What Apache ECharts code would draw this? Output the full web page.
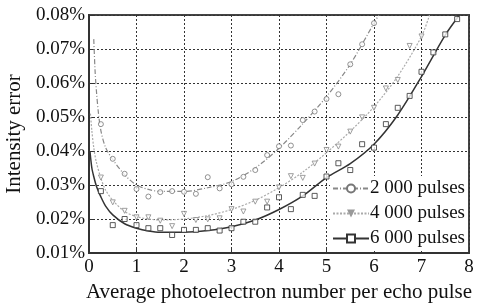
<!DOCTYPE html>
<html>
<head>
<meta charset="utf-8">
<script src="https://cdn.jsdelivr.net/npm/echarts@6/dist/echarts.min.js"></script>
<style>
  html, body { margin: 0; padding: 0; background: #fff; }
  #chart { width: 480px; height: 303px; }
</style>
</head>
<body>
<div id="chart"></div>
<script>
// measured points (x = photoelectrons per pulse, y = intensity error in %)
const xPts = [0.25, 0.5, 0.75, 1, 1.25, 1.5, 1.75, 2, 2.25, 2.5, 2.75, 3, 3.25, 3.5, 3.75, 4,
  4.25, 4.5, 4.75, 5, 5.25, 5.5, 5.75, 6, 6.25, 6.5, 6.75, 7, 7.25, 7.5, 7.75];
const pts2000 = [0.0479, 0.0377, 0.0333, 0.0288, 0.0266, 0.0279, 0.0282, 0.0280, 0.0274, 0.0323,
  0.0290, 0.0302, 0.0324, 0.0344, 0.0388, 0.0414, 0.0416, 0.0491, 0.0516, 0.0553, 0.0567,
  0.0655, 0.0714, 0.0776];
const pts4000 = [0.0322, 0.0249, 0.0224, 0.0205, 0.0205, 0.0195, 0.0179, 0.0215, 0.0197, 0.0199,
  0.0202, 0.0229, 0.0222, 0.0251, 0.0251, 0.0293, 0.0326, 0.0321, 0.0363, 0.0403, 0.0413,
  0.0457, 0.0499, 0.0527, 0.0584, 0.0609, 0.0709, 0.0737];
const pts6000 = [0.0282, 0.0182, 0.0200, 0.0182, 0.0173, 0.0173, 0.0153, 0.0168, 0.0168, 0.0173,
  0.0166, 0.0173, 0.0192, 0.0192, 0.0234, 0.0264, 0.0229, 0.0271, 0.0268, 0.0325, 0.0364,
  0.0344, 0.0420, 0.0410, 0.0479, 0.0527, 0.0562, 0.0633, 0.0690, 0.0743, 0.0788];

// fitted curves
const fit2000X = [0.1, 0.13, 0.16, 0.2, 0.25, 0.35, 0.5, 0.75, 1, 1.25, 1.5, 2, 2.5, 3, 3.5,
  4, 4.5, 5, 5.5, 6, 6.1];
const fit2000Y = [0.0729, 0.0630, 0.0570, 0.0510, 0.0460, 0.0410, 0.0375, 0.0330, 0.0300, 0.0287,
  0.0281, 0.0281, 0.0292, 0.0310, 0.0350, 0.0408, 0.0480, 0.0560, 0.0655, 0.0776, 0.0800];
const fit4000X = [0.03, 0.06, 0.1, 0.15, 0.25, 0.35, 0.5, 0.75, 1, 1.25, 1.5, 2, 2.5, 3, 3.5,
  4, 4.5, 5, 5.5, 6, 6.5, 7, 7.17];
const fit4000Y = [0.0510, 0.0460, 0.0410, 0.0370, 0.0320, 0.0285, 0.0255, 0.0222, 0.0207, 0.0200,
  0.0197, 0.0200, 0.0210, 0.0228, 0.0255, 0.0292, 0.0338, 0.0395, 0.0458, 0.0530, 0.0620, 0.0737, 0.0800];
const fit6000X = [0.02, 0.06, 0.1, 0.16, 0.25, 0.35, 0.5, 0.75, 1, 1.25, 1.5, 2, 2.5, 3, 3.5,
  4, 4.5, 5, 5.5, 6, 6.5, 7, 7.5, 7.8];
const fit6000Y = [0.0400, 0.0350, 0.0325, 0.0295, 0.0265, 0.0238, 0.0212, 0.0186, 0.0173, 0.0165,
  0.0161, 0.0161, 0.0166, 0.0177, 0.0197, 0.0228, 0.0268, 0.0322, 0.0363, 0.0420, 0.0506, 0.0619,
  0.0741, 0.0800];

const names = ['2 000 pulses', '4 000 pulses', '6 000 pulses'];
const fontFam = '"Liberation Serif", "DejaVu Serif", serif';

const zip = (xs, ys) => ys.map((y, i) => [xs[i], y]);

const chart = echarts.init(document.getElementById('chart'), null, { renderer: 'canvas' });

const option = {
  backgroundColor: '#fff',
  animation: false,
  textStyle: { fontFamily: fontFam },
  grid: {
    left: 89, right: 11, top: 15, bottom: 50,
    outerBoundsMode: 'none',
    containLabel: false,
    show: true, borderColor: '#444', borderWidth: 2
  },
  legend: {
    data: names,
    orient: 'vertical',
    right: 13,
    top: 176,
    itemGap: 6,
    itemWidth: 36,
    itemHeight: 10,
    padding: [3, 2, 3, 2],
    backgroundColor: '#fff',
    textStyle: { fontFamily: fontFam, fontSize: 19, color: '#111', padding: [0, 0, 0, -4] }
  },
  xAxis: {
    type: 'value',
    min: 0, max: 8, interval: 1,
    name: 'Average photoelectron number per echo pulse',
    nameLocation: 'middle',
    nameGap: 27,
    nameTextStyle: { fontFamily: fontFam, fontSize: 21, color: '#111' },
    axisLine: { lineStyle: { color: '#333', width: 2 } },
    axisTick: { inside: true, length: 5, lineStyle: { color: '#333' } },
    axisLabel: { fontFamily: fontFam, fontSize: 19, color: '#111', margin: 5 },
    splitLine: { show: true, lineStyle: { color: '#333', type: [2, 2], width: 1 } }
  },
  yAxis: {
    type: 'value',
    min: 0.01, max: 0.08, interval: 0.01,
    name: 'Intensity error',
    nameLocation: 'middle',
    nameGap: 64,
    nameTextStyle: { fontFamily: fontFam, fontSize: 21, color: '#111' },
    axisLine: { show: true, lineStyle: { color: '#333', width: 2 } },
    axisTick: { show: true, inside: true, length: 5, lineStyle: { color: '#333' } },
    axisLabel: {
      fontFamily: fontFam, fontSize: 19, color: '#111', margin: 4,
      formatter: v => v.toFixed(2) + '%'
    },
    splitLine: { show: true, lineStyle: { color: '#333', type: [2, 2], width: 1 } }
  },
  series: [
    {
      name: names[0], type: 'line', smooth: 0.3, showSymbol: false,
      symbol: 'emptyCircle', symbolSize: 6,
      data: zip(fit2000X, fit2000Y),
      itemStyle: { color: '#777', borderColor: '#777' },
      lineStyle: { color: '#888', width: 1.2, type: [5, 2, 1, 2] }, z: 3
    },
    {
      name: names[1], type: 'line', smooth: 0.3, showSymbol: false,
      symbol: 'triangle', symbolRotate: 180, symbolSize: 6,
      data: zip(fit4000X, fit4000Y),
      itemStyle: { color: '#999', borderColor: '#999' },
      lineStyle: { color: '#aaa', width: 1.2, type: [2, 1.5] }, z: 3
    },
    {
      name: names[2], type: 'line', smooth: 0.3, showSymbol: false,
      symbol: 'emptyRect', symbolSize: 6,
      data: zip(fit6000X, fit6000Y),
      itemStyle: { color: '#333', borderColor: '#333' },
      lineStyle: { color: '#333', width: 1.5 }, z: 3
    },
    {
      type: 'scatter', symbol: 'circle', symbolSize: 5,
      data: zip(xPts, pts2000),
      itemStyle: { color: '#fff', borderColor: '#777', borderWidth: 1 }, z: 4
    },
    {
      type: 'scatter', symbol: 'triangle', symbolRotate: 180, symbolSize: 5,
      data: zip(xPts, pts4000),
      itemStyle: { color: '#fff', borderColor: '#888', borderWidth: 1 }, z: 4
    },
    {
      type: 'scatter', symbol: 'rect', symbolSize: 5,
      data: zip(xPts, pts6000),
      itemStyle: { color: '#fff', borderColor: '#333', borderWidth: 1 }, z: 4
    }
  ]
};

chart.setOption(option);
</script>
</body>
</html>
